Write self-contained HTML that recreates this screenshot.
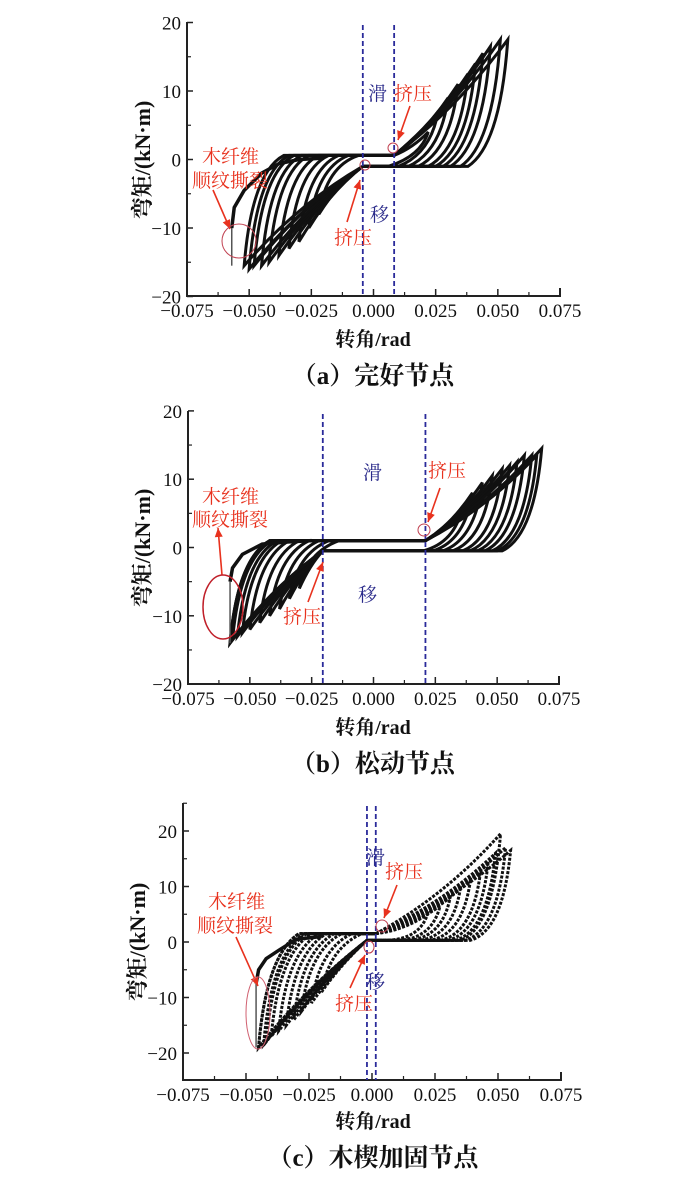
<!DOCTYPE html>
<html><head><meta charset="utf-8">
<style>
html,body{margin:0;padding:0;background:#fff;}
svg{display:block;font-family:"Liberation Serif","Noto Serif CJK SC",serif;}
.tk{font-size:19px;fill:#111;}
.red{fill:#e8321e;font-size:19px;font-family:"Liberation Serif","Noto Serif CJK SC",serif;}
.blue{fill:#2a2a8a;font-size:19px;font-family:"Liberation Serif","Noto Serif CJK SC",serif;}
</style></head>
<body>
<svg id="chart" width="700" height="1179" viewBox="0 0 700 1179" xmlns="http://www.w3.org/2000/svg"></svg>
<script>
// Panel (a) 完好节点
const aPosD=[0.022,0.026,0.030,0.034,0.038,0.041,0.044,0.047,0.051,0.054];
const aPosM=[4,7,9,11,12.5,14,15.5,16.5,17.5,17.5];
const aNegD=[-0.022,-0.026,-0.030,-0.034,-0.038,-0.042,-0.045,-0.048,-0.050,-0.052];
const aNegM=[-8,-10,-12,-13,-14,-15,-15.5,-15.5,-16,-15.5];
const aSlip=[-0.0043,0.0083];
const aFailX=[-0.057,-0.056,-0.052,-0.045,-0.038,-0.030,-0.020];
const aFailY=[-10,-7,-4.5,-2,-0.6,0,0.2];
// Panel (b) 松动节点
const bPosD=[0.036,0.040,0.044,0.048,0.052,0.055,0.058,0.061,0.064,0.066,0.068];
const bPosM=[6,8,9.5,10.5,11.5,12,12.5,13.5,13.5,13.5,14.5];
const bNegD=[-0.030,-0.034,-0.038,-0.042,-0.046,-0.050,-0.053,-0.055,-0.057,-0.058];
const bNegM=[-6,-7.5,-9,-10,-11,-12,-12.5,-13,-13.5,-14];
const bSlip=[-0.0205,0.021];
const bFailX=[-0.058,-0.057,-0.053,-0.045,-0.035,-0.025];
const bFailY=[-5,-3,-1,0.5,0.8,1];
// Panel (c) 木楔加固节点
const cPosD=[0.022,0.027,0.031,0.035,0.039,0.043,0.046,0.049,0.051,0.053,0.055];
const cPosM=[5,6.5,8,9.5,11,12.5,14,16,19.5,17,16.5];
const cNegD=[-0.020,-0.024,-0.028,-0.031,-0.034,-0.037,-0.040,-0.042,-0.043,-0.045];
const cNegM=[-9,-11,-12.5,-14,-15,-16,-17,-18,-18.5,-19];
const cSlip=[-0.002,0.0015];
const cFailX=[-0.046,-0.045,-0.042,-0.037,-0.030,-0.020];
const cFailY=[-7.5,-5,-3,-1.5,0.5,1];
const xTicks=[-0.075,-0.050,-0.025,0.000,0.025,0.050,0.075];
const xTickLabels=["−0.075","−0.050","−0.025","0.000","0.025","0.050","0.075"];

const NS="http://www.w3.org/2000/svg";
const svg=document.getElementById('chart');
function el(tag,attrs,parent){const e=document.createElementNS(NS,tag);for(const k in attrs)e.setAttribute(k,attrs[k]);(parent||svg).appendChild(e);return e;}

function panel(cfg){
  const g=el('g',{});
  
  
  const X=v=>cfg.x0+(v+0.075)/0.15*(cfg.x1-cfg.x0);
  const Y=v=>cfg.yz-(v)*cfg.ys;
  const ax=el('path',{d:`M${cfg.x0},${cfg.yTop} V${cfg.yBot} H${cfg.x1} V${cfg.yBot-8}`,fill:'none',stroke:'#222','stroke-width':2},g);
  
  
  xTicks.forEach((t,i)=>{
    el('line',{x1:X(t),x2:X(t),y1:cfg.yBot,y2:cfg.yBot-7,stroke:'#222','stroke-width':1.5},g);
    if(i<xTicks.length-1) el('line',{x1:X(t+0.0125),x2:X(t+0.0125),y1:cfg.yBot,y2:cfg.yBot-4,stroke:'#222','stroke-width':1.2},g);
    const tx=el('text',{x:X(t),y:cfg.yBot+21,'text-anchor':'middle',class:'tk'},g);
    tx.textContent=xTickLabels[i];
    
    
  });
  cfg.yTicks.forEach(t=>{
    el('line',{x1:cfg.x0,x2:cfg.x0+6,y1:Y(t),y2:Y(t),stroke:'#222','stroke-width':1.5},g);
    if(Y(t+5)>=cfg.yTop) el('line',{x1:cfg.x0,x2:cfg.x0+4,y1:Y(t+5),y2:Y(t+5),stroke:'#222','stroke-width':1.2},g);
    const ty=el('text',{x:cfg.x0-6,y:Y(t)+7,'text-anchor':'end',class:'tk'},g);
    ty.textContent=(t<0?'−':'')+Math.abs(t);
    
    
  });
  const sL=cfg.slip[0], sR=cfg.slip[1];
  const n=Math.max(cfg.posD.length,cfg.negD.length);
  for(let i=0;i<n;i++){
    const pd=cfg.posD[Math.min(i,cfg.posD.length-1)], pm=cfg.posM[Math.min(i,cfg.posM.length-1)];
    const nd=cfg.negD[Math.min(i,cfg.negD.length-1)], nm=cfg.negM[Math.min(i,cfg.negM.length-1)];
    const d=`M${X(sR)},${Y(cfg.hi)} Q${X(sR+0.55*(pd-sR))},${Y(0.42*pm)} ${X(pd)},${Y(pm)}`+
      ` Q${X(pd-0.003)},${Y(0.12*pm)} ${X(pd-0.016)},${Y(cfg.lo)} L${X(sL)},${Y(cfg.lo)}`+
      ` Q${X(sL+0.55*(nd-sL))},${Y(0.42*nm)} ${X(nd)},${Y(nm)}`+
      ` Q${X(nd+0.003)},${Y(0.12*nm)} ${X(nd+0.016)},${Y(cfg.hi)} Z`;
    const p=el('path',{d,fill:'none',stroke:'#111','stroke-width':3,'stroke-dasharray':cfg.dots?'3 1.5':'none'},g);
    
    
  }
  let fd='';
  cfg.failX.forEach((v,i)=>{fd+=(i?' L':'M')+X(v)+','+Y(cfg.failY[i]);});
  const fp=el('path',{d:fd,fill:'none',stroke:'#111','stroke-width':3.5},g);
  
  
  el('line',{x1:X(cfg.failX[0]),x2:X(cfg.failX[0]),y1:Y(cfg.failY[0]),y2:Y(cfg.negM[cfg.negM.length-1]),stroke:'#555','stroke-width':1.5},g);
  cfg.slip.forEach(s=>{
    const l=el('line',{x1:X(s),x2:X(s),y1:cfg.yTop+3,y2:cfg.yBot,stroke:'#2a2a9a','stroke-width':1.8,'stroke-dasharray':'5 3'},g);
    
    
  });
  const yl=el('text',{x:0,y:0,transform:`translate(${cfg.ylx},${cfg.yly}) rotate(-90)`,'text-anchor':'middle',style:'font-size:22px;font-weight:bold;fill:#111'},g);
  yl.textContent='弯矩/(kN·m)';
  
  
  const xl=el('text',{x:373,y:cfg.xly,'text-anchor':'middle',style:'font-size:20px;font-weight:bold;fill:#111'},g);
  xl.textContent='转角/rad';
  
  
  const cp=el('text',{x:373,y:cfg.cy,'text-anchor':'middle',style:'font-size:25px;font-weight:bold;fill:#111'},g);
  cp.textContent=cfg.caption;
  
  
  return g;
}
function txt(x,y,s,cls,name){const t=el('text',{x,y,class:cls});t.textContent=s;}
function arrow(x1,y1,x2,y2){
  const l=el('line',{x1,y1,x2,y2,stroke:'#e8321e','stroke-width':1.6});
  
  
  const a=Math.atan2(y2-y1,x2-x1),L=9,w=4;
  const bx=x2-L*Math.cos(a),by=y2-L*Math.sin(a);
  el('polygon',{points:`${x2},${y2} ${bx-w*Math.sin(a)},${by+w*Math.cos(a)} ${bx+w*Math.sin(a)},${by-w*Math.cos(a)}`,fill:'#e8321e'});
}
function ell(cx,cy,rx,ry,c,w){const e=el('ellipse',{cx,cy,rx,ry,fill:'none',stroke:c,'stroke-width':w});}

panel({id:'a',x0:187,x1:560,yTop:22,yBot:296,yz:159.5,ys:6.85,yTicks:[-20,-10,0,10,20],posD:aPosD,posM:aPosM,negD:aNegD,negM:aNegM,slip:aSlip,failX:aFailX,failY:aFailY,hi:0.6,lo:-1,ylx:150,yly:160,xly:346,cy:384,caption:'（a）完好节点'});
panel({id:'b',x0:188,x1:559,yTop:411,yBot:684,yz:547.5,ys:6.83,yTicks:[-20,-10,0,10,20],posD:bPosD,posM:bPosM,negD:bNegD,negM:bNegM,slip:bSlip,failX:bFailX,failY:bFailY,hi:1,lo:-0.5,ylx:150,yly:548,xly:734,cy:772,caption:'（b）松动节点'});
panel({id:'c',x0:183,x1:561,yTop:803,yBot:1080,yz:942,ys:5.55,yTicks:[-20,-10,0,10,20],posD:cPosD,posM:cPosM,negD:cNegD,negM:cNegM,slip:cSlip,failX:cFailX,failY:cFailY,hi:1.5,lo:0.3,dots:true,ylx:145,yly:942,xly:1128,cy:1166,caption:'（c）木楔加固节点'});

txt(202,163,'木纤维','red','fiber-tear-label');txt(192,187,'顺纹撕裂','red','fiber-tear-label');
arrow(213,190,230,229);ell(239,241,17,17,'#c04050',1);
txt(368,100,'滑','blue','slip-label');txt(394,100,'挤压','red','crush-label');
arrow(410,106,398,140);ell(393,148,5,5,'#c04050',1);
txt(370,221,'移','blue','slip-label');txt(334,244,'挤压','red','crush-label');
arrow(347,222,360,180);ell(365,165,5,5,'#c04050',1);
txt(202,503,'木纤维','red','fiber-tear-label');txt(192,526,'顺纹撕裂','red','fiber-tear-label');
arrow(222,575,218,528);ell(223,607,20,32,'#c0202a',1.5);
txt(363,479,'滑','blue','slip-label');txt(428,477,'挤压','red','crush-label');
arrow(440,488,428,522);ell(424,530,6,6,'#c04050',1);
txt(358,601,'移','blue','slip-label');txt(283,623,'挤压','red','crush-label');
arrow(308,602,323,562);
txt(208,908,'木纤维','red','fiber-tear-label');txt(197,932,'顺纹撕裂','red','fiber-tear-label');
arrow(236,937,258,986);ell(258,1013,12,36,'#d06070',1);
txt(366,864,'滑','blue','slip-label');txt(385,878,'挤压','red','crush-label');
arrow(397,885,384,918);ell(382,926,6,6,'#c04050',1);
txt(366,988,'移','blue','slip-label');txt(335,1010,'挤压','red','crush-label');
arrow(350,988,365,955);ell(369,947,5,6,'#c04050',1);
</script>
</body></html>
